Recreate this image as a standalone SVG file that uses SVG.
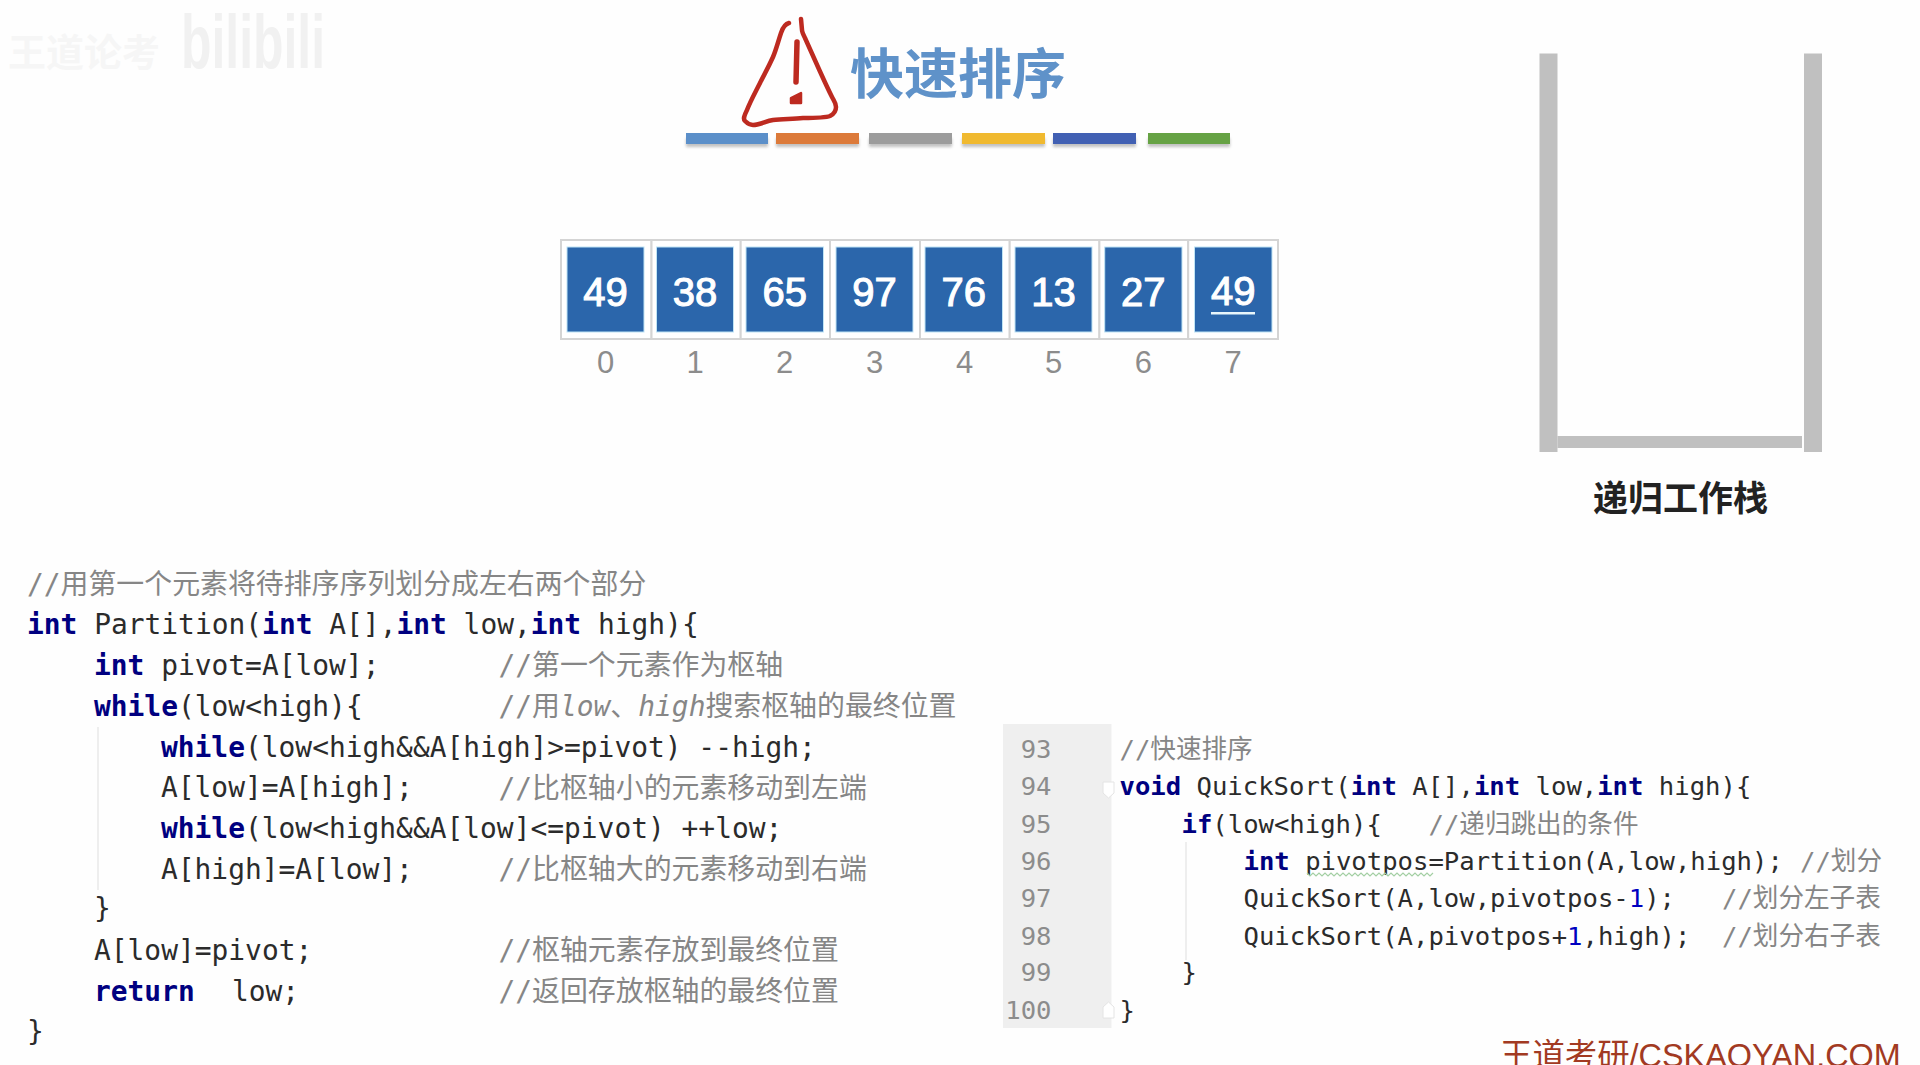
<svg xmlns="http://www.w3.org/2000/svg" width="1920" height="1065" viewBox="0 0 1920 1065">
<style>
.code{font-family:"DejaVu Sans Mono","Noto Sans CJK SC",monospace;font-size:27.9px;fill:#2b2b2b}
.r{font-size:25.6px}
.k{font-weight:700;fill:#000080}
.c{fill:#868686}
.i{font-style:italic}
.n{fill:#0000c0}
.ln{fill:#8c8c8c;text-anchor:end}
.box{fill:#2b66ab;stroke:#bfe4f5;stroke-width:1}
.cell{fill:#fff;stroke:#d4d4d4;stroke-width:2}
.val{font-family:"Liberation Sans",Arial,sans-serif;font-size:40px;fill:#fff;stroke:#fff;stroke-width:1.1;text-anchor:middle}
.idx{font-family:"Liberation Sans",Arial,sans-serif;font-size:31px;fill:#8c8c8c;text-anchor:middle}
.st{fill:#c0c0c0}
.guide{stroke:#e8e8e8;stroke-width:1.5;fill:none}
</style>
<defs>
<filter id="soft" x="-10%" y="-60%" width="120%" height="260%"><feGaussianBlur stdDeviation="1.5"/></filter>
</defs>
<rect width="1920" height="1065" fill="#fefefe"/>

<g id="watermark-top">
<text x="8" y="66" font-family="'Noto Sans CJK SC',sans-serif" font-size="38" font-weight="700" fill="#f6f6f6">王道论考</text>
<text x="181" y="68" font-family="'Liberation Sans',sans-serif" font-size="76" font-weight="700" fill="#f1f1f1" textLength="144" lengthAdjust="spacingAndGlyphs">bilibili</text>
</g>

<g id="warning-icon" fill="none" stroke="#bd2a20" stroke-linecap="round" stroke-linejoin="round">
<path d="M789 23C785 24 783 27 781 33C778 42 776 50 773 57C768 68 765 73 760 83C755 93 750 102 747 110C744 116 743 119 745 121C748 124 750 125 753 125C760 125 766 121 773 120C783 119 793 119 803 118C813 118 825 118 830 116C834 114 836 110 836 107C836 103 834 101 832 97C827 87 823 78 818 67C813 56 809 47 805 38C803 34 802 32 802 30L801 19" stroke-width="4.5"/>
<path d="M797 42L796 82" stroke-width="5.5"/>
<path d="M791 98L801 93L801 103L791 103Z" stroke-width="2.5" fill="#bd2a20"/>
</g>
<g id="title">
<text x="850" y="94" font-family="'Noto Sans CJK SC',sans-serif" font-size="54" font-weight="700" fill="#5f92c9">快速排序</text>
</g>
<g id="colour-bars">
<g fill="#777" opacity=".45" filter="url(#soft)">
<rect x="686" y="138" width="82" height="9"/><rect x="776" y="138" width="83" height="9"/><rect x="869" y="138" width="83" height="9"/><rect x="962" y="138" width="83" height="9"/><rect x="1053" y="138" width="83" height="9"/><rect x="1148" y="138" width="82" height="9"/>
</g>
<rect x="686" y="133" width="82" height="11" fill="#5b8fc9"/>
<rect x="776" y="133" width="83" height="11" fill="#dc7a3a"/>
<rect x="869" y="133" width="83" height="11" fill="#9c9c9c"/>
<rect x="962" y="133" width="83" height="11" fill="#f0b92f"/>
<rect x="1053" y="133" width="83" height="11" fill="#4160b3"/>
<rect x="1148" y="133" width="82" height="11" fill="#66a244"/>
</g>

<g id="array">
<g id="cell-0"><rect class="cell" x="561" y="240" width="90.5" height="99"/><rect class="box" x="567" y="247" width="77" height="85"/><text class="val" x="605.5" y="306">49</text><text class="idx" x="605.5" y="373">0</text></g>
<g id="cell-1"><rect class="cell" x="651.5" y="240" width="89.2" height="99"/><rect class="box" x="656.5" y="247" width="77" height="85"/><text class="val" x="695" y="306">38</text><text class="idx" x="695" y="373">1</text></g>
<g id="cell-2"><rect class="cell" x="740.7" y="240" width="89.3" height="99"/><rect class="box" x="746" y="247" width="77.5" height="85"/><text class="val" x="784.7" y="306">65</text><text class="idx" x="784.7" y="373">2</text></g>
<g id="cell-3"><rect class="cell" x="830" y="240" width="90" height="99"/><rect class="box" x="836" y="247" width="77" height="85"/><text class="val" x="874.5" y="306">97</text><text class="idx" x="874.5" y="373">3</text></g>
<g id="cell-4"><rect class="cell" x="920" y="240" width="89.7" height="99"/><rect class="box" x="925" y="247" width="77.5" height="85"/><text class="val" x="963.7" y="306">76</text><text class="idx" x="964.5" y="373">4</text></g>
<g id="cell-5"><rect class="cell" x="1009.7" y="240" width="89.7" height="99"/><rect class="box" x="1015" y="247" width="77" height="85"/><text class="val" x="1053.5" y="306">13</text><text class="idx" x="1053.5" y="373">5</text></g>
<g id="cell-6"><rect class="cell" x="1099.4" y="240" width="88.8" height="99"/><rect class="box" x="1104.7" y="247" width="77.3" height="85"/><text class="val" x="1143.3" y="306">27</text><text class="idx" x="1143.3" y="373">6</text></g>
<g id="cell-7"><rect class="cell" x="1188.2" y="240" width="89.8" height="99"/><rect class="box" x="1194.5" y="247" width="77.5" height="85"/><text class="val" x="1233.2" y="305">49</text><rect x="1211" y="312" width="44" height="2.5" fill="#e8f6fb"/><text class="idx" x="1233.2" y="373">7</text></g>
</g>

<g id="recursion-stack">
<rect class="st" x="1539.5" y="53.5" width="18" height="398.5"/>
<rect class="st" x="1804" y="53.5" width="18" height="398.5"/>
<rect class="st" x="1557.5" y="436" width="244.5" height="12"/>
<text x="1680.5" y="510.5" font-family="'Noto Sans CJK SC',sans-serif" font-size="35" font-weight="700" fill="#222" text-anchor="middle">递归工作栈</text>
</g>

<g id="partition-code" class="code">
<path class="guide" d="M98 727V890"/>
<text class="c" x="27" y="594">//用第一个元素将待排序序列划分成左右两个部分</text>
<text x="27" y="633.5"><tspan class="k">int</tspan> Partition(<tspan class="k">int</tspan> A[],<tspan class="k">int</tspan> low,<tspan class="k">int</tspan> high){</text>
<text x="94" y="674.5"><tspan class="k">int</tspan> pivot=A[low];</text>
<text class="c" x="498.5" y="675">//第一个元素作为枢轴</text>
<text x="94" y="715.5"><tspan class="k">while</tspan>(low&lt;high){</text>
<text class="c" x="498.5" y="716">//用<tspan class="i">low</tspan>、<tspan class="i">high</tspan>搜索枢轴的最终位置</text>
<text x="161" y="756.5"><tspan class="k">while</tspan>(low&lt;high&amp;&amp;A[high]&gt;=pivot) --high;</text>
<text x="161" y="797">A[low]=A[high];</text>
<text class="c" x="498.5" y="797.5">//比枢轴小的元素移动到左端</text>
<text x="161" y="838"><tspan class="k">while</tspan>(low&lt;high&amp;&amp;A[low]&lt;=pivot) ++low;</text>
<text x="161" y="878.5">A[high]=A[low];</text>
<text class="c" x="498.5" y="879">//比枢轴大的元素移动到右端</text>
<text x="94" y="918">}</text>
<text x="94" y="960">A[low]=pivot;</text>
<text class="c" x="498.5" y="960">//枢轴元素存放到最终位置</text>
<text x="94" y="1001"><tspan class="k">return</tspan></text>
<text x="232" y="1001">low;</text>
<text class="c" x="498.5" y="1001">//返回存放枢轴的最终位置</text>
<text x="27" y="1041">}</text>
</g>

<g id="quicksort-code" class="code r">
<rect x="1003" y="724" width="108.5" height="304" fill="#efefef"/>
<path d="M1103 782H1114V793L1108.5 798L1103 793Z" fill="#fff" stroke="#e4e4e4"/>
<path d="M1103 1018H1114V1007L1108.5 1002L1103 1007Z" fill="#fff" stroke="#e4e4e4"/>
<path class="guide" d="M1186 842V960"/>
<text class="ln" x="1051.5" y="758">93</text>
<text class="ln" x="1051.5" y="795">94</text>
<text class="ln" x="1051.5" y="832.5">95</text>
<text class="ln" x="1051.5" y="869.5">96</text>
<text class="ln" x="1051.5" y="907">97</text>
<text class="ln" x="1051.5" y="944.5">98</text>
<text class="ln" x="1051.5" y="981">99</text>
<text class="ln" x="1051.5" y="1018.5">100</text>
<text class="c" x="1119.5" y="758">//快速排序</text>
<text x="1119.5" y="795"><tspan class="k">void</tspan> QuickSort(<tspan class="k">int</tspan> A[],<tspan class="k">int</tspan> low,<tspan class="k">int</tspan> high){</text>
<text x="1181.5" y="832.5"><tspan class="k">if</tspan>(low&lt;high){</text>
<text class="c" x="1428.5" y="832.5">//递归跳出的条件</text>
<text x="1243.5" y="869.5"><tspan class="k">int</tspan> pivotpos=Partition(A,low,high);</text>
<text class="c" x="1800" y="869.5">//划分</text>
<path d="M1307 873l3 3 3-3 3 3 3-3 3 3 3-3 3 3 3-3 3 3 3-3 3 3 3-3 3 3 3-3 3 3 3-3 3 3 3-3 3 3 3-3 3 3 3-3 3 3 3-3 3 3 3-3 3 3 3-3 3 3 3-3 3 3 3-3 3 3 3-3 3 3 3-3 3 3 3-3 3 3 3-3 3 3 3-3" fill="none" stroke="#a3cfa3" stroke-width="1.2"/>
<text x="1243.5" y="907">QuickSort(A,low,pivotpos-<tspan class="n">1</tspan>);</text>
<text class="c" x="1722" y="907">//划分左子表</text>
<text x="1243.5" y="944.5">QuickSort(A,pivotpos+<tspan class="n">1</tspan>,high);</text>
<text class="c" x="1722" y="944.5">//划分右子表</text>
<text x="1181.5" y="981">}</text>
<text x="1119.5" y="1018.5">}</text>
</g>

<g id="watermark-bottom">
<text x="1500" y="1067" font-family="'Liberation Sans','Noto Sans CJK SC',sans-serif" font-size="32.4" fill="#a23a22">王道考研/CSKAOYAN.COM</text>
</g>
</svg>
